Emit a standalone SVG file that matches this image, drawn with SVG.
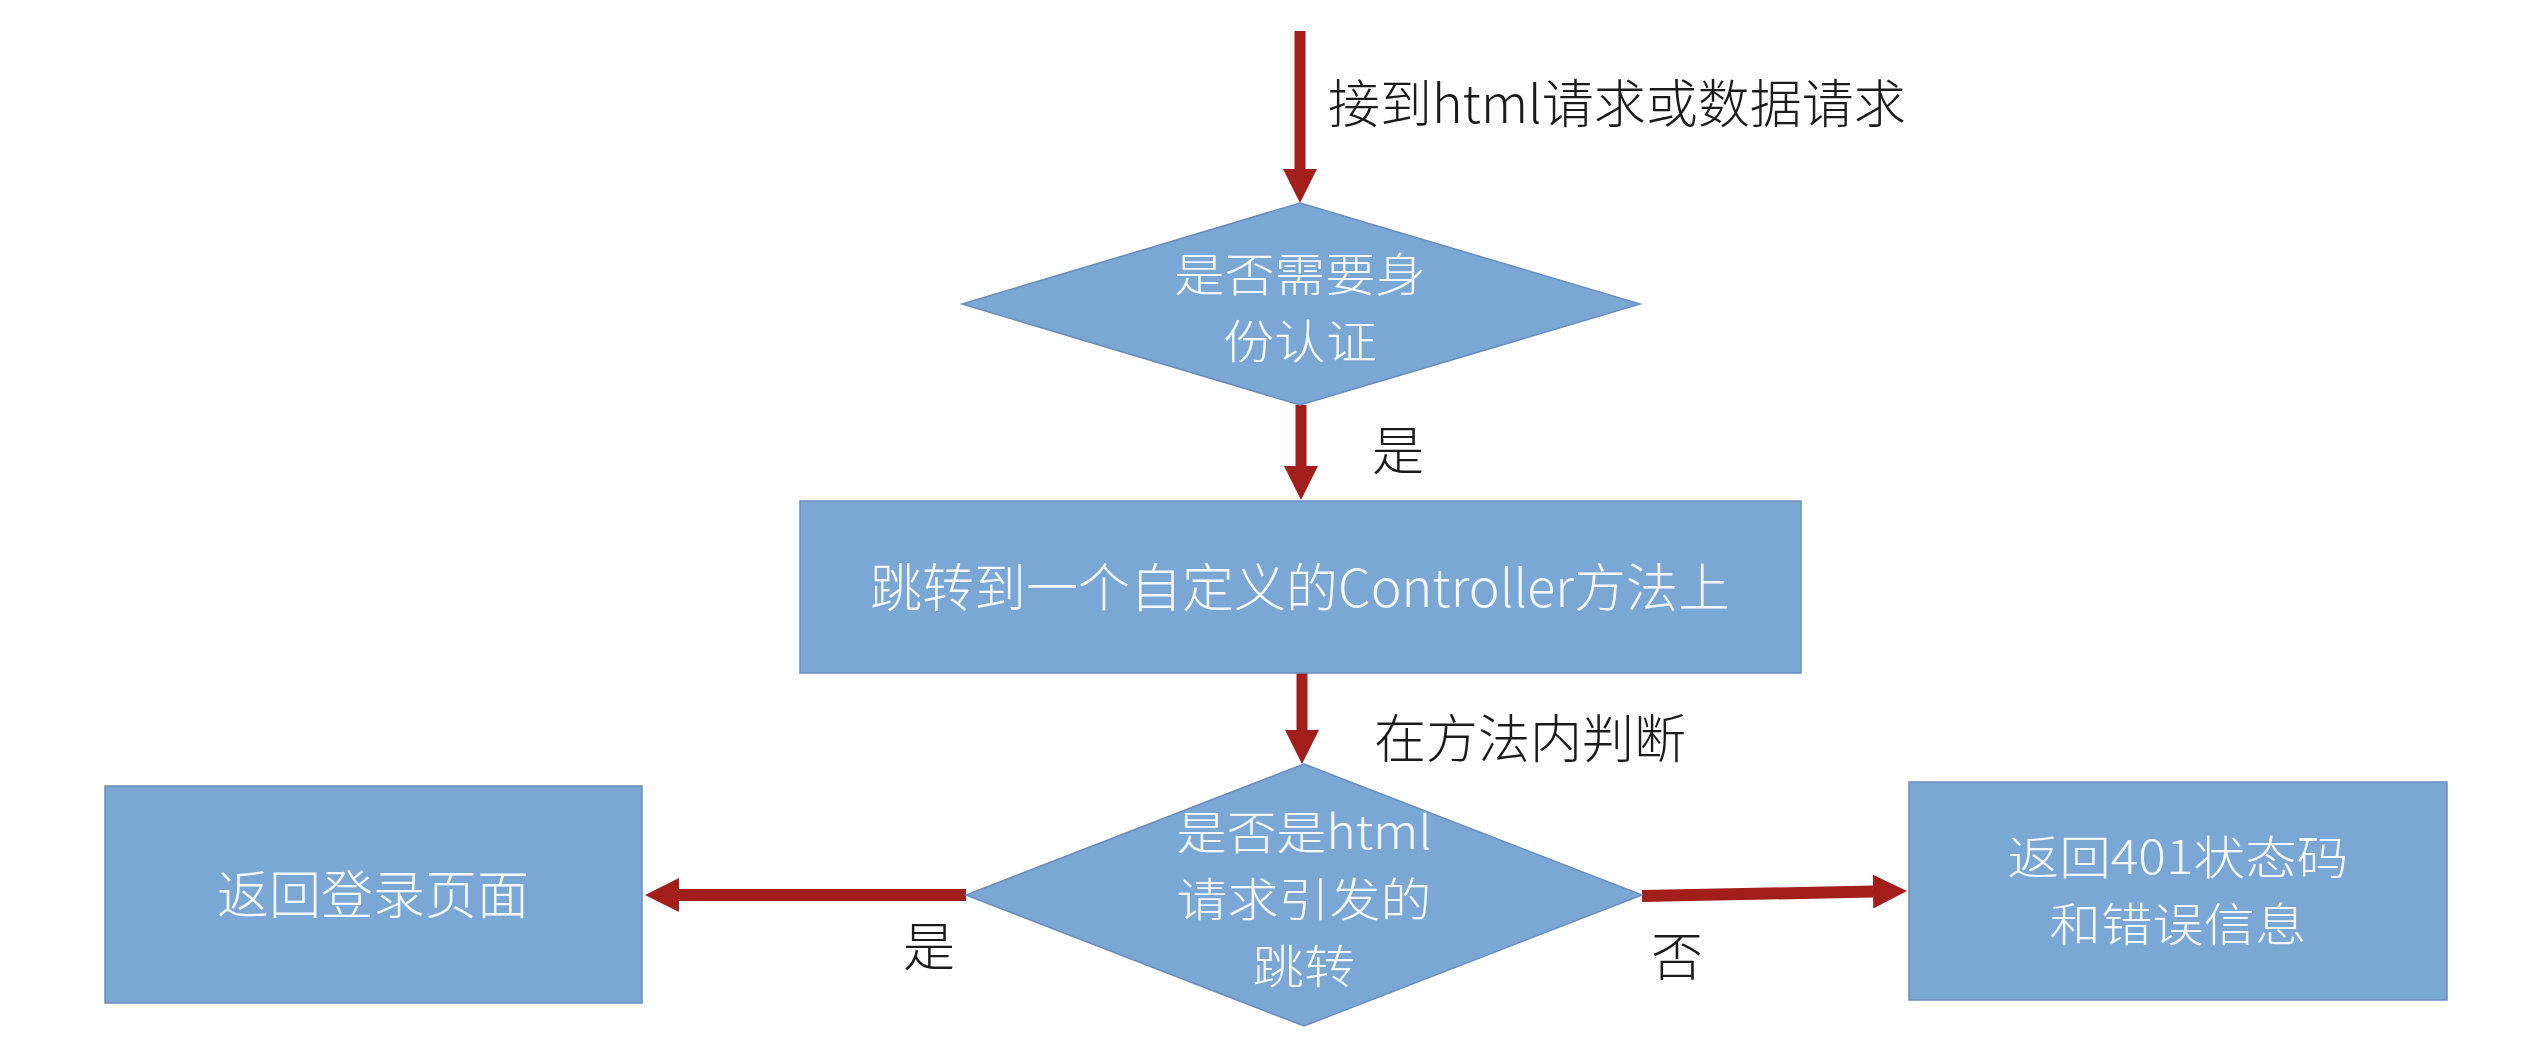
<svg xmlns="http://www.w3.org/2000/svg" width="2542" height="1040" viewBox="0 0 2542 1040">
<style>
.shape{fill:#7BA7D5;stroke:#6A8DBE;stroke-width:1.5}
.nt{font-family:"Noto Sans CJK SC","Noto Sans",sans-serif;font-size:52px;font-weight:300;fill:#F4F7FC;text-anchor:middle}
.nm{font-size:46px}
.lb{font-family:"Noto Sans CJK SC","Noto Sans",sans-serif;font-size:52px;font-weight:300;fill:#1A1A1A}
.conn{stroke:#A11E1B;stroke-width:11;fill:none}
.connh{stroke:#A11E1B;stroke-width:12;fill:none}
</style>
<defs>
<marker id="ah" viewBox="0 0 34 34" refX="0" refY="17" markerWidth="34" markerHeight="34" markerUnits="userSpaceOnUse" orient="auto">
<path d="M0,0 L34,17 L0,34 Z" fill="#A11E1B"/>
</marker>
</defs>
<rect width="2542" height="1040" fill="#FFFFFF"/>
<g id="connectors">
<line class="conn" x1="1300" y1="31" x2="1300" y2="169" marker-end="url(#ah)"/>
<line class="conn" x1="1301" y1="405" x2="1301" y2="466" marker-end="url(#ah)"/>
<line class="conn" x1="1302" y1="673" x2="1302" y2="730" marker-end="url(#ah)"/>
<line class="connh" x1="966" y1="895" x2="679" y2="895" marker-end="url(#ah)"/>
<line class="connh" x1="1642" y1="896" x2="1873" y2="891.6" marker-end="url(#ah)"/>
<text class="lb" x="1328" y="123">接到html请求或数据请求</text>
<text class="lb" x="1372" y="470">是</text>
<text class="lb" x="1374" y="758">在方法内判断</text>
<text class="lb" x="929" y="966" text-anchor="middle">是</text>
<text class="lb" x="1677" y="976" text-anchor="middle">否</text>
</g>
<g id="node-auth">
<polygon class="shape" points="1300,203 1640,304 1300,405 962,304"/>
<text class="nt nm" x="1300" y="291" textLength="252" lengthAdjust="spacingAndGlyphs">是否需要身</text>
<text class="nt nm" x="1300" y="358" textLength="154" lengthAdjust="spacingAndGlyphs">份认证</text>
</g>
<g id="node-controller">
<rect class="shape" x="800" y="501" width="1001" height="172"/>
<text class="nt" x="1300" y="607">跳转到一个自定义的Controller方法上</text>
</g>
<g id="node-html">
<polygon class="shape" points="1304,764 1642,895 1304,1026 966,895"/>
<text class="nt nm" x="1304" y="849" textLength="255" lengthAdjust="spacingAndGlyphs">是否是html</text>
<text class="nt nm" x="1304" y="916" textLength="255" lengthAdjust="spacingAndGlyphs">请求引发的</text>
<text class="nt nm" x="1304" y="983" textLength="103" lengthAdjust="spacingAndGlyphs">跳转</text>
</g>
<g id="node-login">
<rect class="shape" x="105" y="786" width="537" height="217"/>
<text class="nt" x="373" y="914">返回登录页面</text>
</g>
<g id="node-401">
<rect class="shape" x="1909" y="782" width="538" height="218"/>
<text class="nt nm" x="2178" y="874" textLength="341" lengthAdjust="spacingAndGlyphs">返回401状态码</text>
<text class="nt nm" x="2178" y="941" textLength="257" lengthAdjust="spacingAndGlyphs">和错误信息</text>
</g>
</svg>
